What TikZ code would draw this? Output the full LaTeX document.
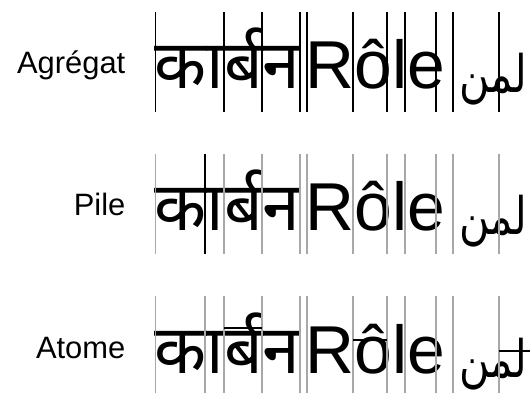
\documentclass[tikz,border=0pt]{standalone}
\usepackage{fontspec}
\setmainfont{Liberation Sans}
\newfontfamily\devafont[Script=Devanagari]{Noto Sans}
\newfontfamily\arabfont[Script=Arabic,FakeStretch=0.8]{DejaVu Sans}
\TeXXeTstate=1
\usetikzlibrary{positioning}
\definecolor{segblack}{HTML}{000000}
\definecolor{seggrey}{HTML}{A8A8A8}

\begin{document}
\begin{tikzpicture}[x=1bp,y=-1bp,
  lvl/.style={anchor=base east,inner sep=0pt,font=\fontsize{31}{31}\selectfont},
  word/.style={anchor=base west,inner sep=0pt},
  deva/.style={word,font=\devafont\fontsize{68}{68}\selectfont},
  latn/.style={word,font=\fontsize{68}{68}\selectfont},
  arab/.style={word,font=\arabfont\fontsize{52}{52}\selectfont},
  newcut/.style={line width=1.1bp,segblack},
  oldcut/.style={line width=1.2bp,seggrey}]
  \useasboundingbox (0,0) rectangle (530,392);

  % the three levels: cluster, stack, atom
  \foreach \lab/\name [count=\i from 0] in {Agrégat/agg,Pile/pile,Atome/atom}{
    \pgfmathsetmacro{\yb}{88+142.5*\i}
    \node[lvl] (lbl-\name) at (125.5,\yb-15) {\lab};
    \node[deva] (deva-\name) at (154.5,\yb) {कार्बन};
    \node[latn] (latn-\name) at (305.5,\yb) {Rôle};
    \node[arab] (arab-\name) at (459,\yb+4) {\beginR لمن\endR};
  }

  % cluster boundaries
  \foreach \x in {155.7,224,262,300,307,353,387,405,436,453,499}{
    \draw[newcut] (\x,12) -- (\x,112);
    \draw[oldcut] (\x,154) -- (\x,254);
    \draw[oldcut] (\x,296) -- (\x,396);
  }

  % stack boundaries
  \draw[newcut] (205,154) -- (205,254);
  \draw[oldcut] (205,296) -- (205,396);

  % atom boundaries
  \draw[newcut] (224,328) -- (262,328);
  \draw[newcut] (353,340) -- (387,340);
  \draw[newcut] (499,351) -- (530,351);
\end{tikzpicture}
\end{document}
